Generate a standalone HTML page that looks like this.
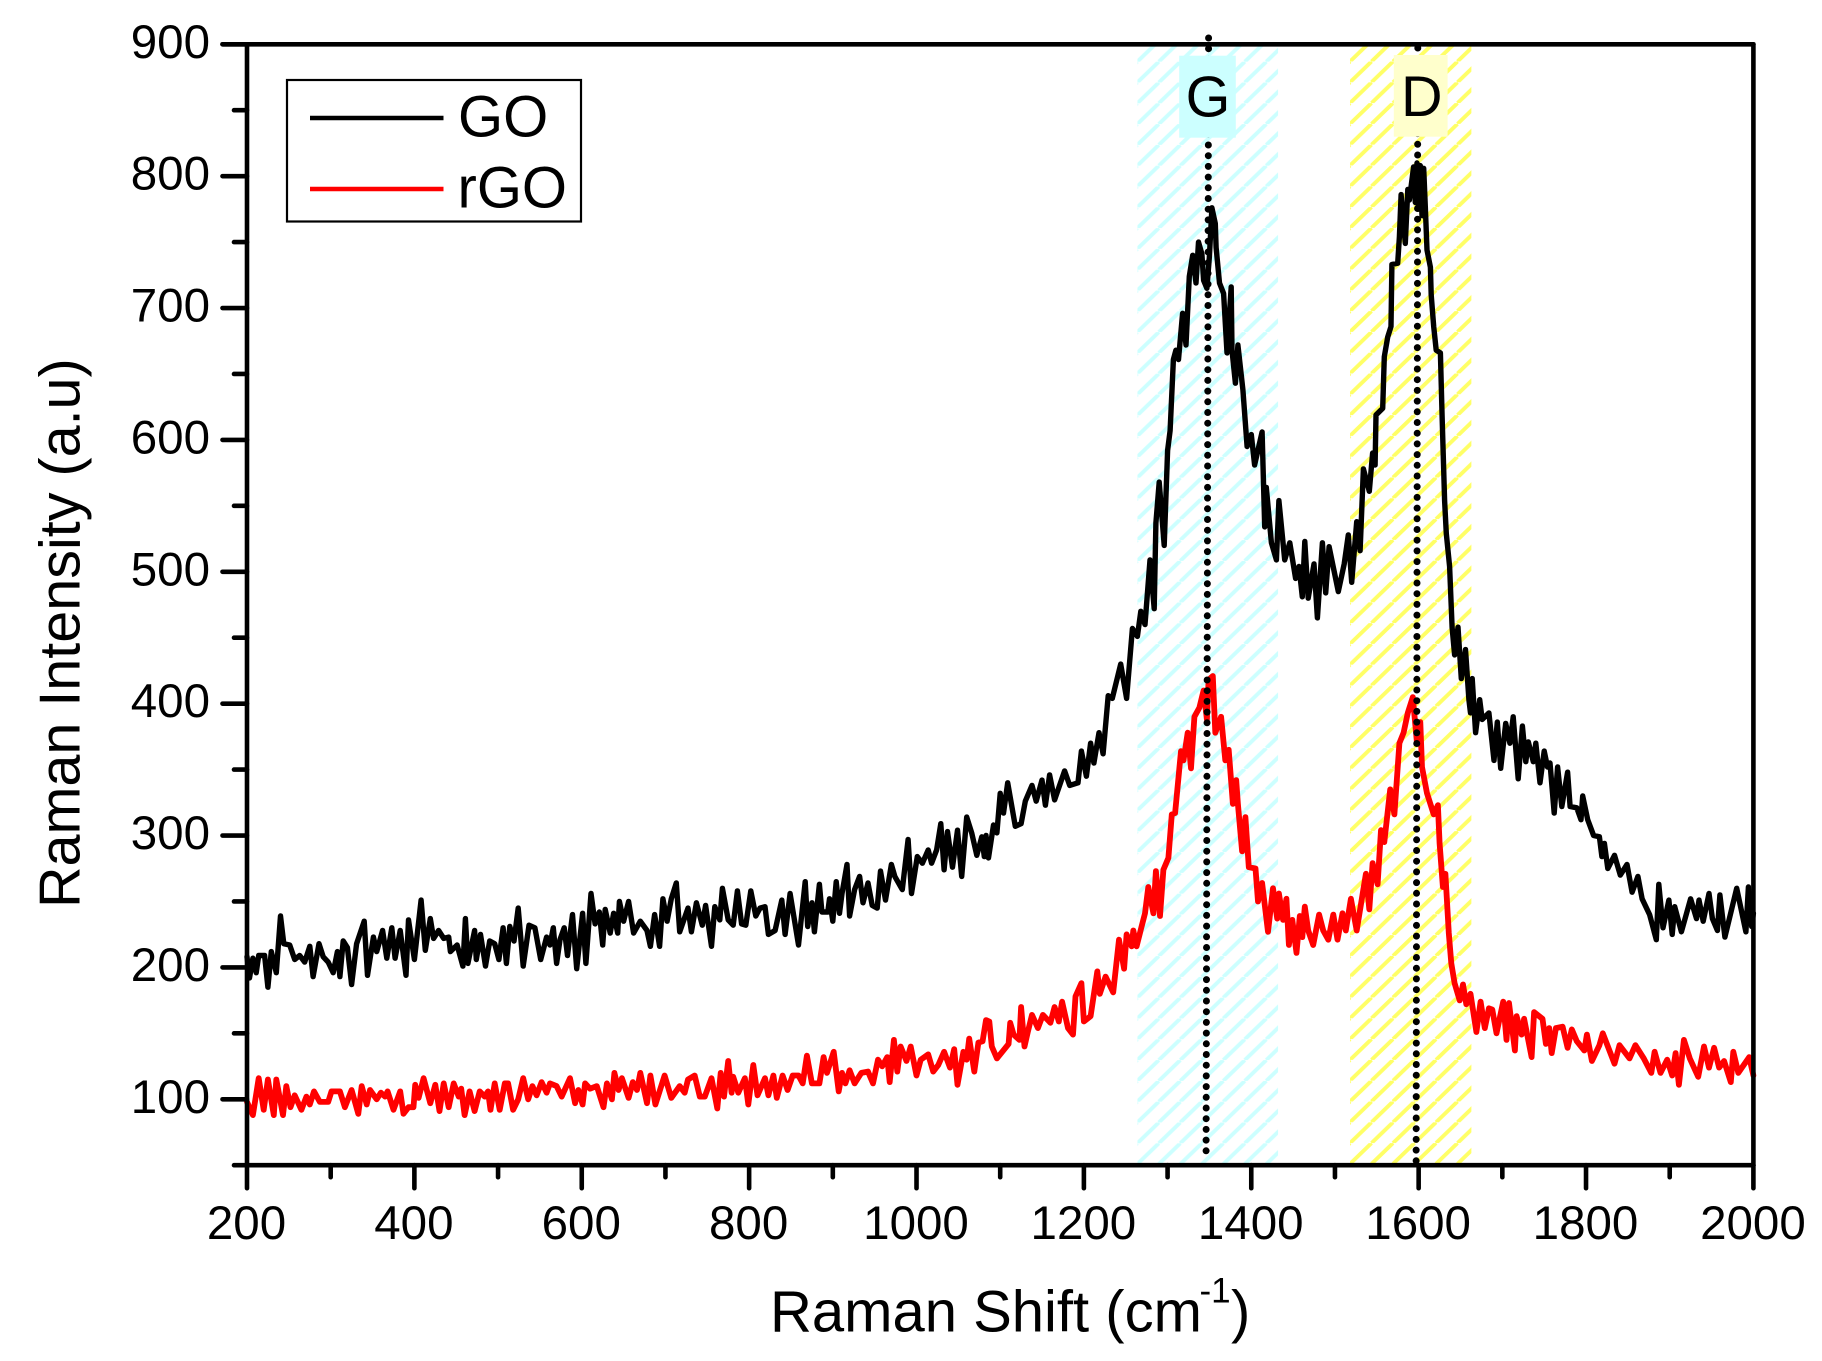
<!DOCTYPE html>
<html lang="en">
<head>
<meta charset="utf-8">
<title>Raman spectra of GO and rGO</title>
<style>
html,body{margin:0;padding:0;background:#fff;}
svg{display:block;position:absolute;left:0;top:0;}
text{font-family:"Liberation Sans",Arial,sans-serif;fill:#000;}
</style>
</head>
<body>
<svg id="chart" xmlns="http://www.w3.org/2000/svg" width="1822" height="1361" viewBox="0 0 1822 1361">
  <defs>
    <pattern id="hatch-g" patternUnits="userSpaceOnUse" x="1137.3" y="186.5" width="21.5" height="20.8">
      <path d="M-21.5 20.8L0 0M0 20.8L21.5 0M21.5 20.8L43 0" stroke="#ccffff" stroke-width="3.9" fill="none"/>
    </pattern>
    <pattern id="hatch-d" patternUnits="userSpaceOnUse" x="1350" y="144.7" width="21.5" height="20.8">
      <path d="M-21.5 20.8L0 0M0 20.8L21.5 0M21.5 20.8L43 0" stroke="#ffff66" stroke-width="3.9" fill="none"/>
    </pattern>
  </defs>
  <rect width="1822" height="1361" fill="#fff"/>
  <g id="bands"></g>
  <g id="series"></g>
  <g id="peaks"></g>
  <rect x="1179.2" y="55.7" width="56.6" height="82" fill="#ccffff"/>
  <rect x="1393.8" y="55" width="53.8" height="81.7" fill="#ffffcc"/>
  <text x="1208" y="116.5" font-size="57.5" text-anchor="middle">G</text>
  <text x="1421.8" y="116" font-size="57.5" text-anchor="middle">D</text>
  <g id="axes"></g>
  <g id="legend">
    <rect x="287" y="80" width="294" height="141.5" fill="none" stroke="#000" stroke-width="2.2"/>
    <line x1="310" y1="118" x2="443.5" y2="118" stroke="#000" stroke-width="4.6"/>
    <line x1="310" y1="189" x2="443.5" y2="189" stroke="#ff0000" stroke-width="4.6"/>
    <text x="458" y="136.5" font-size="58">GO</text>
    <text x="457.5" y="207.5" font-size="58">rGO</text>
  </g>
  <text font-size="58" y="1331.7"><tspan x="770">Raman Shift (cm</tspan><tspan x="1199.5" y="1302.5" font-size="35">-1</tspan><tspan x="1231" y="1331.7">)</tspan></text>
  <text font-size="57.5" transform="translate(79.6 908) rotate(-90)">Raman Intensity (a.u)</text>
</svg>
<script>
const xTickLabels = [200,400,600,800,1000,1200,1400,1600,1800,2000];
const xMinorTicks = [300,500,700,900,1100,1300,1500,1700,1900];
const yTickLabels = [100,200,300,400,500,600,700,800,900];
const yMinorTicks = [50,150,250,350,450,550,650,750,850];
const xDomain = [200,2000];
const yDomain = [50,900];
const gBandRange = [1264,1432];
const dBandRange = [1518,1663];
const gPeakShift = [1349,1346];
const dPeakShift = [1599,1597];

const goShift = [
200,203,207,211,214,221,225,229,235,240,
244,251,257,263,269,275,279,286,291,297,
303,308,311,315,320,325,331,340,344,351,
355,362,367,373,377,383,390,393,400,408,
413,419,423,429,435,441,443,451,458,461,
464,472,474,479,485,490,496,501,506,510,
514,519,524,530,537,544,551,558,562,566,
570,574,579,583,589,594,601,605,611,616,
621,625,628,634,638,643,645,650,656,662,
670,678,682,687,693,697,702,707,713,717,
727,731,737,744,748,755,759,765,768,775,
781,786,791,796,802,808,813,819,823,831,
839,843,849,859,867,870,875,878,884,887,
894,896,900,904,908,911,917,920,926,932,
936,942,947,953,957,963,970,974,983,990,
994,1001,1007,1014,1018,1024,1029,1033,1037,1043,
1049,1054,1060,1066,1072,1078,1081,1083,1086,1092,
1096,1100,1104,1109,1118,1125,1130,1138,1143,1150,
1154,1159,1165,1177,1183,1193,1197,1203,1208,1212,
1218,1223,1229,1234,1244,1251,1258,1264,1268,1273,
1279,1284,1286,1290,1296,1300,1303,1307,1310,1313,
1318,1322,1326,1330,1334,1337,1341,1343,1347,1350,
1353,1357,1358,1362,1367,1371,1376,1377,1381,1384,
1390,1395,1400,1404,1413,1416,1418,1424,1430,1433,
1440,1446,1453,1457,1461,1464,1468,1475,1479,1485,
1489,1493,1504,1511,1516,1520,1526,1530,1534,1541,
1545,1548,1549,1557,1559,1563,1567,1568,1575,1577,
1579,1584,1587,1589,1594,1596,1598,1600,1602,1604,
1606,1608,1610,1614,1615,1618,1621,1626,1628,1631,
1633,1637,1640,1643,1647,1651,1656,1660,1662,1664,
1668,1673,1676,1684,1690,1694,1698,1704,1709,1713,
1719,1724,1728,1731,1737,1740,1745,1750,1754,1757,
1762,1766,1771,1778,1781,1789,1794,1796,1802,1809,
1816,1819,1822,1826,1834,1841,1849,1855,1862,1867,
1876,1884,1887,1892,1899,1903,1906,1914,1925,1932,
1935,1940,1947,1951,1957,1960,1966,1980,1991,1994,
1998,2000
];
const goIntensity = [
208,192,207,196,209,209,185,212,196,239,
218,217,206,209,204,216,193,218,208,204,
196,212,193,220,215,187,218,235,194,223,
212,228,207,230,207,228,194,236,206,251,
213,237,222,228,222,223,212,217,201,237,
203,228,206,225,201,220,218,206,230,203,
231,220,245,201,232,230,206,223,217,230,
203,221,230,209,240,199,241,203,256,233,
242,217,244,226,241,226,250,235,250,226,
235,228,216,240,216,252,235,252,264,227,
245,227,249,232,247,216,246,236,260,236,
232,258,233,232,258,239,245,246,225,228,
251,225,256,217,265,231,249,227,263,242,
242,252,235,265,241,256,278,239,259,269,
249,264,247,245,273,251,278,269,259,297,
256,284,279,289,279,289,309,274,303,276,
304,269,314,302,285,299,284,300,283,308,
302,332,317,340,307,309,326,338,326,342,
323,346,327,349,338,340,364,345,370,355,
378,362,406,404,430,404,457,451,470,460,
509,472,537,568,520,592,607,661,668,661,
696,672,724,740,719,750,741,721,715,739,
776,764,746,719,711,666,716,668,643,672,
638,595,604,581,606,534,564,522,509,554,
509,522,495,504,481,523,480,506,465,522,
484,519,485,506,528,492,538,516,578,561,
590,581,619,624,663,678,686,733,734,754,
786,749,790,782,807,780,810,775,808,770,
806,777,744,731,710,686,668,666,618,554,
529,504,458,437,458,419,441,403,393,419,
378,403,388,393,357,386,351,385,370,390,
343,383,356,371,356,370,340,364,352,355,
317,352,322,348,322,321,312,330,312,300,
299,284,294,275,285,270,278,257,269,252,
240,221,263,230,251,225,246,227,252,237,
251,235,256,237,228,255,223,260,227,261,
231,241
];
const rgoShift = [
200,207,214,220,225,232,235,243,247,252,
257,265,271,275,280,287,297,301,311,317,
325,333,337,343,347,355,360,365,368,375,
383,387,393,399,401,405,411,419,425,430,
435,441,447,453,456,460,466,472,478,484,
488,491,496,502,508,512,518,524,530,536,
541,546,552,558,562,570,576,586,592,596,
601,604,610,618,626,630,636,639,644,648,
656,661,666,670,678,682,688,699,707,717,
723,727,735,741,747,755,762,766,770,775,
779,781,787,795,799,805,810,819,823,829,
833,840,846,852,859,864,869,875,884,889,
893,901,907,911,915,920,926,934,942,948,
954,959,965,968,973,977,981,988,993,1000,
1005,1014,1020,1026,1033,1040,1045,1049,1056,1060,
1063,1069,1074,1079,1083,1087,1090,1096,1110,1112,
1116,1123,1125,1129,1133,1138,1145,1151,1160,1165,
1170,1174,1181,1187,1190,1197,1200,1208,1216,1219,
1226,1235,1242,1248,1251,1257,1259,1263,1269,1273,
1277,1283,1286,1291,1295,1301,1305,1309,1316,1319,
1324,1328,1332,1338,1343,1347,1349,1354,1357,1364,
1369,1373,1378,1382,1384,1389,1393,1397,1405,1408,
1413,1420,1426,1431,1433,1438,1442,1445,1449,1454,
1458,1461,1464,1468,1474,1481,1486,1492,1498,1503,
1509,1513,1519,1526,1537,1541,1545,1551,1555,1559,
1566,1571,1577,1582,1587,1593,1598,1602,1604,1610,
1618,1623,1625,1629,1632,1636,1639,1643,1649,1653,
1657,1662,1669,1674,1679,1684,1688,1693,1701,1705,
1708,1715,1717,1723,1726,1735,1738,1748,1752,1756,
1759,1764,1772,1778,1783,1789,1798,1801,1807,1816,
1820,1834,1840,1852,1859,1869,1878,1882,1889,1897,
1903,1907,1911,1917,1924,1934,1941,1947,1953,1959,
1965,1973,1976,1982,1995,2000
];
const rgoIntensity = [
98,88,116,92,115,88,115,88,110,94,
103,92,102,96,106,98,98,106,106,94,
107,89,110,96,107,100,105,102,106,92,
106,89,94,94,111,101,116,97,111,91,
112,94,112,102,108,88,106,91,106,102,
106,92,112,92,112,112,92,100,116,100,
110,103,113,105,112,110,102,116,97,107,
96,112,108,110,94,112,100,120,107,116,
101,113,107,120,97,118,96,118,101,110,
105,115,118,102,102,116,93,120,102,129,
105,117,105,116,96,126,103,116,103,118,
101,118,107,118,118,112,133,112,112,132,
120,136,106,120,112,122,112,120,121,112,
130,125,132,113,145,121,140,129,140,118,
130,134,121,126,136,124,138,111,136,130,
146,121,143,144,160,159,140,131,142,158,
149,145,170,140,151,164,154,164,158,170,
159,174,154,149,178,188,159,163,197,180,
193,181,221,199,225,216,228,216,231,241,
261,241,273,239,274,283,316,317,364,357,
378,351,390,397,410,388,418,421,378,390,
357,365,324,342,324,288,314,276,275,250,
264,227,260,237,256,236,252,217,236,211,
239,223,246,228,217,240,228,221,240,221,
241,228,252,228,271,244,279,263,304,295,
335,316,370,378,393,405,370,386,352,332,
316,323,294,261,271,226,203,188,175,187,
172,180,151,174,154,169,168,150,174,145,
173,137,163,149,161,132,166,161,142,154,
135,154,155,139,153,144,137,149,129,141,
150,127,141,131,141,131,120,136,120,130,
118,135,111,145,131,117,140,124,139,124,
129,113,136,120,132,118
];

const plotLeft = 247, plotRight = 1753.4, plotTop = 44.3, plotBottom = 1165.2;
const SVG_NS = 'http://www.w3.org/2000/svg';
function xScale(v){ return plotLeft + (v - xDomain[0]) / (xDomain[1] - xDomain[0]) * (plotRight - plotLeft); }
function yScale(v){ return plotBottom - (v - yDomain[0]) / (yDomain[1] - yDomain[0]) * (plotBottom - plotTop); }
function make(tag, parentId, attrs){
  const el = document.createElementNS(SVG_NS, tag);
  Object.keys(attrs).forEach(function(k){ el.setAttribute(k, attrs[k]); });
  document.getElementById(parentId).appendChild(el);
  return el;
}
function axisLine(x1, y1, x2, y2){
  return make('line', 'axes', {x1:x1, y1:y1, x2:x2, y2:y2, stroke:'#000', 'stroke-width':4.6, 'stroke-linecap':'round'});
}
function linePath(xs, ys){
  return xs.map(function(v, i){ return (i ? 'L' : 'M') + xScale(v).toFixed(1) + ' ' + yScale(ys[i]).toFixed(1); }).join('');
}

/* band regions */
const gBand = make('rect', 'bands', {x:xScale(gBandRange[0]), y:plotTop, width:xScale(gBandRange[1]) - xScale(gBandRange[0]), height:plotBottom - plotTop, fill:'url(#hatch-g)'});


const dBand = make('rect', 'bands', {x:xScale(dBandRange[0]), y:plotTop, width:xScale(dBandRange[1]) - xScale(dBandRange[0]), height:plotBottom - plotTop, fill:'url(#hatch-d)'});



/* series */
const goLine = make('path', 'series', {d:linePath(goShift, goIntensity), fill:'none', stroke:'#000', 'stroke-width':5.4, 'stroke-linejoin':'round', 'stroke-linecap':'round'});


const rgoLine = make('path', 'series', {d:linePath(rgoShift, rgoIntensity), fill:'none', stroke:'#ff0000', 'stroke-width':5.8, 'stroke-linejoin':'round', 'stroke-linecap':'round'});



/* peak marker lines */
const gPeak = make('line', 'peaks', {x1:xScale(gPeakShift[0]), y1:38, x2:xScale(gPeakShift[1]), y2:1156, stroke:'#000', 'stroke-width':7, 'stroke-linecap':'round', 'stroke-dasharray':'0 10.7'});


const dPeak = make('line', 'peaks', {x1:xScale(dPeakShift[0]), y1:48, x2:xScale(dPeakShift[1]), y2:1161, stroke:'#000', 'stroke-width':7, 'stroke-linecap':'round', 'stroke-dasharray':'0 10.7'});



/* axes frame */
const axisTop = axisLine(plotLeft - 24.5, plotTop, plotRight, plotTop);


const axisRight = axisLine(plotRight, plotTop, plotRight, plotBottom);


const axisBottom = axisLine(plotLeft, plotBottom, plotRight, plotBottom);


const axisLeft = axisLine(plotLeft, plotTop, plotLeft, plotBottom);



/* x ticks */
xTickLabels.forEach(function(v){
  const tick = axisLine(xScale(v), plotBottom, xScale(v), plotBottom + 23);
  
  
  const label = make('text', 'axes', {x:xScale(v) - 0.5, y:1239, 'font-size':47.5, 'text-anchor':'middle'});
  label.textContent = String(v);
  
  
});
xMinorTicks.forEach(function(v){
  const tick = axisLine(xScale(v), plotBottom, xScale(v), plotBottom + 12);
  
  
});

/* y ticks */
yTickLabels.forEach(function(v){
  const tick = axisLine(plotLeft, yScale(v), plotLeft - 24.5, yScale(v));
  
  
  const label = make('text', 'axes', {x:210, y:yScale(v) + 13.5, 'font-size':47.5, 'text-anchor':'end'});
  label.textContent = String(v);
  
  
});
yMinorTicks.forEach(function(v){
  const tick = axisLine(plotLeft, yScale(v), plotLeft - 13, yScale(v));
  
  
});
</script>
</body>
</html>
